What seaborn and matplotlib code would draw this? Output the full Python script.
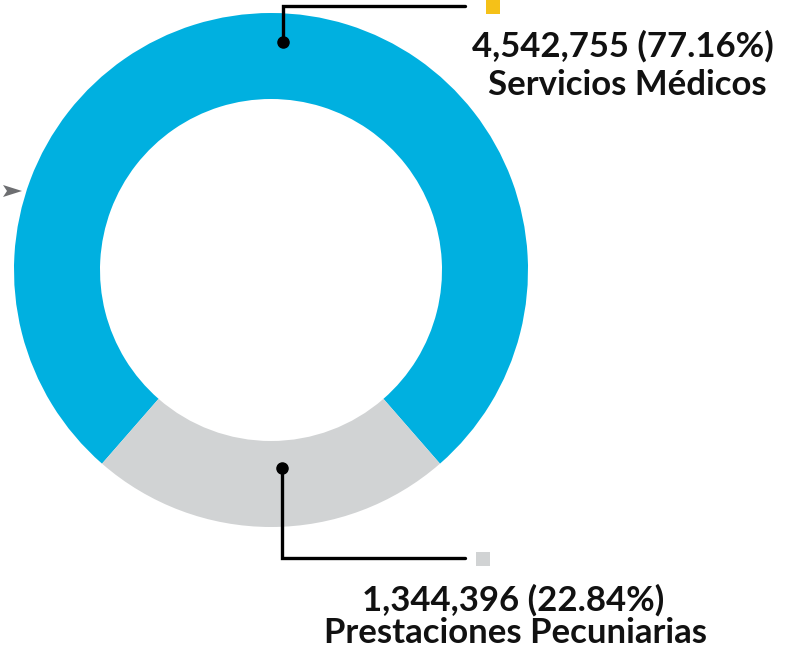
import matplotlib.pyplot as plt
import seaborn as sns

# data
labels = ['Servicios Médicos', 'Prestaciones Pecuniarias']
values = [4542755, 1344396]
pcts = ['77.16%', '22.84%']
colors = ['#00b0e0', '#d1d3d4']
marker_colors = ['#f5c118', '#d1d3d4']

sns.set_theme(style='white')
plt.rcParams['font.family'] = ['Lato', 'DejaVu Sans']

W, H = 801, 652
fig = plt.figure(figsize=(W / 100, H / 100), dpi=100)
ax = fig.add_axes([0, 0, 1, 1])
ax.set_xlim(0, W)
ax.set_ylim(0, H)
ax.axis('off')

# pixel helpers (y measured from top)
def py(y):
    return H - y

cx, cy, r_out, ring = 271, py(270), 257, 86
total = sum(values)
# centre the small slice on the bottom
start = 270 - (360 * values[0] / total + 180 * values[1] / total)
ax.pie(values, colors=colors, startangle=start, center=(cx, cy), radius=r_out,
       wedgeprops=dict(width=ring, linewidth=0), frame=True)
ax.set_xlim(0, W)
ax.set_ylim(0, H)
ax.set_aspect('equal')
ax.axis('off')

# leader lines
lw = 2.4
ax.plot([283, 283, 465], [py(42), py(6), py(6)], color='black', lw=lw, solid_joinstyle='miter')
ax.plot(283, py(42), 'o', color='black', ms=8)
ax.plot([282, 282, 465], [py(468), py(558), py(558)], color='black', lw=lw, solid_joinstyle='miter')
ax.plot(282, py(468), 'o', color='black', ms=8)

# small legend squares
ax.add_patch(plt.Rectangle((486, py(14)), 14, 14, color=marker_colors[0], lw=0))
ax.add_patch(plt.Rectangle((476, py(566)), 14, 14, color=marker_colors[1], lw=0))

# little arrow on the left
ax.add_patch(plt.Polygon([[3, py(185)], [22, py(191)], [3, py(197)], [7, py(191)]],
                         closed=True, color='#6d6e71', lw=0))

fs = 25
ax.text(623, py(46), f'{values[0]:,} ({pcts[0]})', ha='center', va='center',
        fontsize=fs, fontweight='bold', color='#111111')
ax.text(627, py(85), labels[0], ha='center', va='center',
        fontsize=fs, fontweight='bold', color='#111111')
ax.text(513, py(600), f'{values[1]:,} ({pcts[1]})', ha='center', va='center',
        fontsize=fs, fontweight='bold', color='#111111')
ax.text(515, py(633), labels[1], ha='center', va='center',
        fontsize=fs, fontweight='bold', color='#111111')

fig.savefig('out.png', dpi=100)
